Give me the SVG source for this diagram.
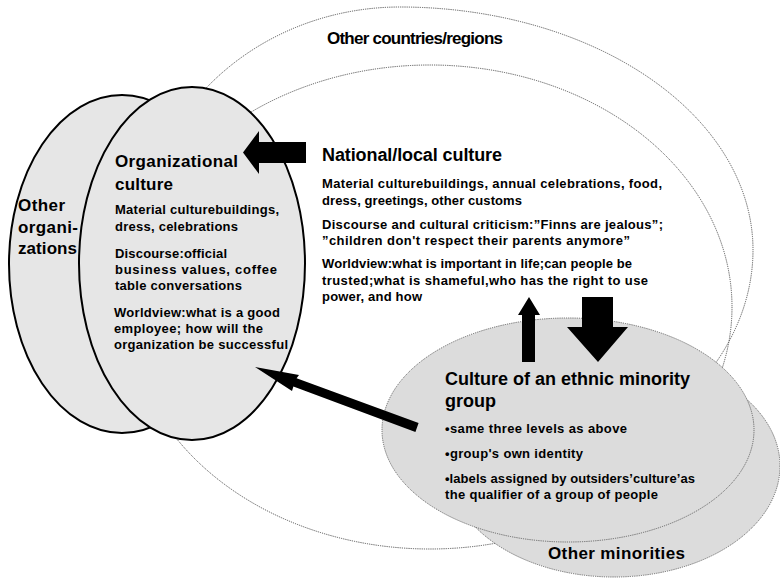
<svg xmlns="http://www.w3.org/2000/svg" width="780" height="578" viewBox="0 0 780 578">
<style>
  text { font-family: "Liberation Sans", Arial, Helvetica, sans-serif; font-weight: bold; fill: #000; }
  .h { font-size: 17px; }
  .h18 { font-size: 18px; }
  .b { font-size: 13px; }
  .dot { fill: none; stroke: #555; stroke-width: 1; stroke-dasharray: 1.2 1; }
  .org { fill: #e6e6e6; stroke: #000; stroke-width: 2; }
  .min { fill: #dcdcdc; stroke: #666; stroke-width: 1; stroke-dasharray: 1.2 1; }
  .arrow { fill: #000; stroke: none; }
</style>
<rect width="780" height="578" fill="#fff"/>

<g id="other-countries">
  <path class="dot" d="M 684 400 A 353 253 0 0 0 753 250 A 353 243 0 0 0 400 7 A 260 243 0 0 0 140 250"/>
  <text class="h" x="327" y="44" font-size="16" textLength="176">Other countries/regions</text>
</g>

<g id="national-culture">
  <ellipse class="dot" cx="430" cy="307" rx="302" ry="242"/>
  <text class="h18" x="322" y="161" textLength="180">National/local culture</text>
  <text class="b" x="322" y="188" textLength="340">Material culturebuildings, annual celebrations, food,</text>
  <text class="b" x="322" y="204.5" textLength="200">dress, greetings, other customs</text>
  <text class="b" x="322" y="228.5" textLength="341">Discourse and cultural criticism:”Finns are jealous”;</text>
  <text class="b" x="322" y="245" textLength="308">”children don't respect their parents anymore”</text>
  <text class="b" x="322" y="268" textLength="310">Worldview:what is important in life;can people be</text>
  <text class="b" x="322" y="284.5" textLength="326">trusted;what is shameful,who has the right to use</text>
  <text class="b" x="322" y="301" textLength="100">power, and how</text>
</g>

<g id="other-organizations">
  <ellipse class="org" cx="122" cy="264" rx="113" ry="169"/>
  <text class="h" x="18" y="211" textLength="47">Other</text>
  <text class="h" x="18" y="233" textLength="60">organi-</text>
  <text class="h" x="18" y="254" textLength="59">zations</text>
</g>

<g id="organizational-culture">
  <ellipse class="org" cx="192" cy="263.5" rx="113" ry="176.5"/>
  <text class="h" x="115" y="167" textLength="123">Organizational</text>
  <text class="h" x="115" y="190" textLength="58">culture</text>
  <text class="b" x="115" y="214" textLength="164">Material culturebuildings,</text>
  <text class="b" x="115" y="230.5" textLength="123">dress, celebrations</text>
  <text class="b" x="115" y="257.5" textLength="112">Discourse:official</text>
  <text class="b" x="115" y="274" textLength="162">business values, coffee</text>
  <text class="b" x="115" y="290" textLength="127">table conversations</text>
  <text class="b" x="114" y="317" textLength="166">Worldview:what is a good</text>
  <text class="b" x="114" y="333" textLength="149">employee; how will the</text>
  <text class="b" x="114" y="349" textLength="174">organization be successful</text>
</g>

<g id="other-minorities">
  <ellipse class="min" cx="614" cy="466" rx="166" ry="111"/>
  <text class="h" x="548" y="559" font-size="16" textLength="137">Other minorities</text>
</g>

<g id="ethnic-minority">
  <ellipse class="min" cx="568" cy="430" rx="186" ry="112"/>
  <text class="h18" x="445" y="385" textLength="245">Culture of an ethnic minority</text>
  <text class="h18" x="445" y="407">group</text>
  <text class="b" x="445" y="432.5" textLength="182">•same three levels as above</text>
  <text class="b" x="445" y="457.5" textLength="138">•group's own identity</text>
  <text class="b" x="445" y="482.5" textLength="250">•labels assigned by outsiders’culture’as</text>
  <text class="b" x="445" y="498.5" textLength="213">the qualifier of a group of people</text>
</g>

<g id="connectors">
  <polygon class="arrow" points="243,152.5 259,131 259,142 306,142 306,163 259,163 259,174"/>
  <polygon class="arrow" points="529,297 540,315 535,315 535,362 522,362 522,315 518,315"/>
  <polygon class="arrow" points="582,297 613,297 613,327 628,327 598,362 567,327 582,327"/>
  <polygon class="arrow" points="255,367 299,375 296.6,378.2 418.6,423 415.4,432 293.4,386.6 292,391"/>
</g>
</svg>
